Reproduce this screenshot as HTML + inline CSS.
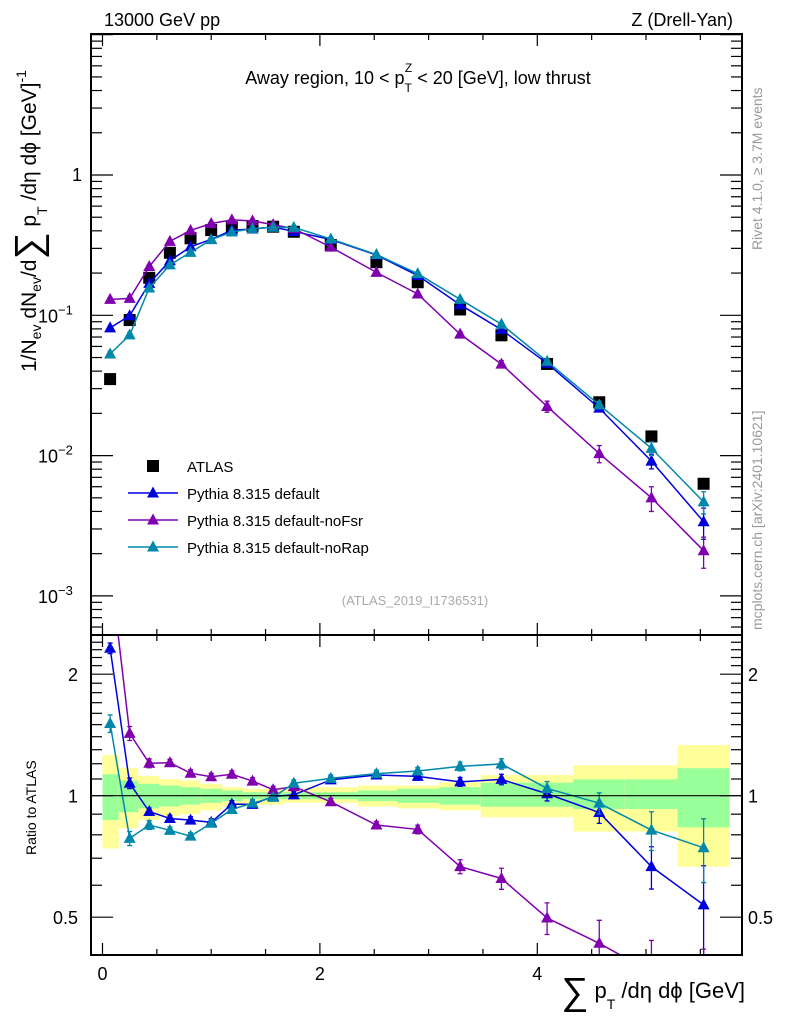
<!DOCTYPE html>
<html><head><meta charset="utf-8"><style>
html,body{margin:0;padding:0;background:#fff;}
svg{display:block;font-family:"Liberation Sans",sans-serif;}
</style></head><body>
<svg id="chart" width="786" height="1024" viewBox="0 0 786 1024" xmlns="http://www.w3.org/2000/svg">
<text x="104" y="26" font-size="18">13000 GeV pp</text>
<text x="733" y="26" font-size="18" text-anchor="end">Z (Drell-Yan)</text>
<text x="418" y="84" font-size="18" text-anchor="middle">Away region, 10 &lt; p<tspan font-size="12" dy="8">T</tspan><tspan font-size="12" dx="-7" dy="-20">Z</tspan><tspan dy="12"> &lt; 20 [GeV], low thrust</tspan></text>
<text transform="translate(762,250) rotate(-90)" font-size="14" fill="#999">Rivet 4.1.0, ≥ 3.7M events</text>
<text transform="translate(762,630) rotate(-90)" font-size="14" fill="#999">mcplots.cern.ch [arXiv:2401.10621]</text>
<text x="415" y="605" font-size="13" fill="#aaa" text-anchor="middle">(ATLAS_2019_I1736531)</text>
<text transform="translate(36,372) rotate(-90)" font-size="21">1/N<tspan font-size="14" dy="5">ev</tspan><tspan dy="-5"> dN</tspan><tspan font-size="14" dy="5">ev</tspan><tspan dy="-5">/d</tspan><tspan font-size="38" dy="5">∑</tspan><tspan dy="-5"> p</tspan><tspan font-size="14" dy="11">T</tspan><tspan dy="-11"> /dη dϕ  [GeV]</tspan><tspan font-size="14" dy="-10">-1</tspan></text>
<text transform="translate(36,855) rotate(-90)" font-size="14">Ratio to ATLAS</text>
<text x="745" y="998" font-size="22" text-anchor="end"><tspan font-size="38" dy="6">∑</tspan><tspan dy="-6"> p</tspan><tspan font-size="14" dy="11">T</tspan><tspan dy="-11"> /dη dϕ [GeV]</tspan></text>
<g id="bands"></g>
<g id="marks"></g>
<g id="axes"></g>
<g id="legend"></g>
</svg>
<script>
const xs = [0.07,0.25,0.43,0.62,0.81,1.0,1.19,1.38,1.57,1.76,2.1,2.52,2.9,3.29,3.67,4.09,4.57,5.05,5.53];
const binEdges = [0,0.15,0.33,0.52,0.71,0.9,1.1,1.29,1.47,1.66,1.87,2.35,2.71,3.1,3.48,3.9,4.33,4.8,5.29,5.77];
const atlas = [0.0351,0.0925,0.185,0.279,0.354,0.405,0.424,0.433,0.428,0.394,0.317,0.239,0.172,0.11,0.072,0.045,0.024,0.0137,0.0063];
const pyDefault = [0.0814,0.0993,0.169,0.245,0.308,0.348,0.404,0.412,0.426,0.396,0.347,0.269,0.192,0.119,0.079,0.0455,0.0218,0.00914,0.00338];
const pyNoFsr = [0.13,0.132,0.2226,0.3367,0.4025,0.4512,0.4791,0.4707,0.4429,0.4149,0.3062,0.2022,0.1419,0.0734,0.0449,0.0224,0.01034,0.0050,0.0021];
const pyNoRap = [0.053,0.0725,0.1565,0.229,0.281,0.346,0.392,0.415,0.424,0.423,0.350,0.271,0.198,0.130,0.0863,0.0469,0.0230,0.01126,0.00468];
const errDefault = [0.03,0.03,0.02,0.02,0.02,0.02,0.02,0.02,0.02,0.02,0.02,0.02,0.02,0.025,0.03,0.04,0.06,0.12,0.25];
const errNoFsr = [0.03,0.04,0.025,0.02,0.02,0.02,0.02,0.02,0.02,0.02,0.02,0.02,0.025,0.04,0.06,0.09,0.14,0.2,0.25];
const errNoRap = [0.05,0.04,0.025,0.02,0.02,0.02,0.02,0.02,0.02,0.02,0.02,0.02,0.02,0.025,0.03,0.04,0.06,0.11,0.18];
const yellowUp = [1.26,1.17,1.12,1.10,1.09,1.07,1.05,1.04,1.04,1.04,1.05,1.06,1.06,1.08,1.125,1.125,1.19,1.19,1.335];
const yellowDn = [0.74,0.83,0.87,0.89,0.90,0.92,0.94,0.95,0.95,0.96,0.96,0.94,0.93,0.92,0.884,0.884,0.815,0.815,0.667];
const greenUp = [1.13,1.09,1.07,1.06,1.05,1.04,1.03,1.02,1.02,1.02,1.02,1.03,1.04,1.05,1.077,1.077,1.098,1.098,1.17];
const greenDn = [0.87,0.91,0.93,0.94,0.95,0.96,0.97,0.98,0.98,0.98,0.98,0.97,0.96,0.95,0.939,0.939,0.927,0.927,0.835];
const mainTickLabels = ["10","1","10","10","10"];
const xTickLabels = ["0","2","4"];
const ratioTickLabels = ["0.5","1","2"];
const legendLabels = ["ATLAS","Pythia 8.315 default","Pythia 8.315 default-noFsr","Pythia 8.315 default-noRap"];

const NS="http://www.w3.org/2000/svg";
const L=91,R=742,T=34,MID=635,B=955;
const X=v=>102.5+108.7*v;
const Ym=v=>175-140.3*Math.log10(v);
const Yr=v=>795.7-403.6*Math.log10(v);
function mk(tag,attrs,parent){const e=document.createElementNS(NS,tag);for(const k in attrs)e.setAttribute(k,attrs[k]);parent.appendChild(e);return e;}
const svg=document.getElementById('chart');
const defs=mk('defs',{},svg);
const c1=mk('clipPath',{id:'cm'},defs);mk('rect',{x:L,y:T,width:R-L,height:MID-T},c1);
const c2=mk('clipPath',{id:'cr'},defs);mk('rect',{x:L,y:MID,width:R-L,height:B-MID},c2);
const bands=document.getElementById('bands');
const marks=document.getElementById('marks');
const axes=document.getElementById('axes');
const legend=document.getElementById('legend');

for(let i=0;i<atlas.length;i++){
  const x0=X(binEdges[i]),x1=X(binEdges[i+1]);
  let r=mk('rect',{x:x0,y:Yr(yellowUp[i]),width:x1-x0,height:Yr(yellowDn[i])-Yr(yellowUp[i]),fill:'#ffff99'},bands);
  
  
  r=mk('rect',{x:x0,y:Yr(greenUp[i]),width:x1-x0,height:Yr(greenDn[i])-Yr(greenUp[i]),fill:'#99ff99'},bands);
  
  
}
const one=mk('line',{x1:L,x2:R,y1:Yr(1),y2:Yr(1),stroke:'#000','stroke-width':1.2},axes);



function tri(x,y,col,parent,name){
  const p=mk('polygon',{points:`${x},${y-6.5} ${x-6},${y+4.5} ${x+6},${y+4.5}`,fill:col},parent);
  
  
}
const series=[[pyDefault,errDefault,'#0000dd','default'],[pyNoFsr,errNoFsr,'#8000b0','nofsr'],[pyNoRap,errNoRap,'#0088aa','norap']];
atlas.forEach((v,i)=>{
  const s=mk('rect',{x:X(xs[i])-6,y:Ym(v)-6,width:12,height:12,fill:'#000','clip-path':'url(#cm)'},marks);
  
  
});
series.forEach(([vals,errs,col,nm])=>{
  const gm=mk('g',{'clip-path':'url(#cm)'},marks);
  const gr=mk('g',{'clip-path':'url(#cr)'},marks);
  const pm=vals.map((v,i)=>X(xs[i])+','+Ym(v)).join(' ');
  const pr=vals.map((v,i)=>X(xs[i])+','+Yr(v/atlas[i])).join(' ');
  let l=mk('polyline',{points:pm,fill:'none',stroke:col,'stroke-width':1.5},gm);
  
  
  l=mk('polyline',{points:pr,fill:'none',stroke:col,'stroke-width':1.5},gr);
  
  
  vals.forEach((v,i)=>{
    const x=X(xs[i]),r=v/atlas[i],e=errs[i];
    [[gm,Ym(v*(1+e)),Ym(v*(1-e)),Ym(v)],[gr,Yr(r*(1+e)),Yr(r*(1-e)),Yr(r)]].forEach(([g,ya,yb,yc])=>{
      const eb=mk('path',{d:`M${x},${ya}V${yb}M${x-2.5},${ya}H${x+2.5}M${x-2.5},${yb}H${x+2.5}`,stroke:col,'stroke-width':1.3,fill:'none'},g);
      
      
      tri(x,yc,col,g,nm+'-point');
    });
  });
});

[[T,MID],[MID,B]].forEach(([a,b],k)=>{
  const f=mk('rect',{x:L,y:a,width:R-L,height:b-a,fill:'none',stroke:'#000','stroke-width':2},axes);
  
  
});
function tick(x1,y1,x2,y2){const t=mk('line',{x1,y1,x2,y2,stroke:'#000','stroke-width':1.2},axes);}
for(let v=0;v<=5.75;v+=0.5){
  const x=X(v),maj=Math.abs(v%2)<1e-6,len=maj?12:6;
  tick(x,T,x,T+len);tick(x,MID,x,MID-len);tick(x,MID,x,MID+len);tick(x,B,x,B-len);
}
xTickLabels.forEach((s,i)=>{
  const t=mk('text',{x:X(i*2),y:980,'font-size':18,'text-anchor':'middle'},axes);t.textContent=s;
  
  
});
for(let d=-4;d<=1;d++){
  for(let m=1;m<10;m++){
    const v=m*Math.pow(10,d),y=Ym(v);
    if(y<T||y>MID)continue;
    const len=m===1?22:11;
    tick(L,y,L+len,y);tick(R,y,R-len,y);
  }
}
[1,0,-1,-2,-3].forEach((d,i)=>{
  const y=Ym(Math.pow(10,d));
  if(d===0){const t=mk('text',{x:82,y:y+6,'font-size':18,'text-anchor':'end'},axes);t.textContent=mainTickLabels[1];return;}
  if(d===1)return;
  const t=mk('text',{x:38,y:y+7,'font-size':18},axes);
  
  
  t.textContent=mainTickLabels[i];
  const s=mk('tspan',{'font-size':13,dy:-8},t);s.textContent='−'+(-d);
});
[0.5,0.6,0.7,0.8,0.9,1,1.1,1.2,1.3,1.4,1.5,1.6,1.7,1.8,1.9,2,2.1,2.2,2.3,2.4].forEach(v=>{
  const y=Yr(v);if(y<MID||y>B)return;
  const len=(v===0.5||v===1||v===2)?22:11;
  tick(L,y,L+len,y);tick(R,y,R-len,y);
});
[0.5,1,2].forEach((v,i)=>{
  const y=Yr(v)+7;
  let t=mk('text',{x:78,y,'font-size':18,'text-anchor':'end'},axes);t.textContent=ratioTickLabels[i];
  
  
  t=mk('text',{x:748,y,'font-size':18},axes);t.textContent=ratioTickLabels[i];
  
  
});
const ly=[466,493,520,547];
const lc=['#000','#0000dd','#8000b0','#0088aa'];
legendLabels.forEach((s,i)=>{
  const y=ly[i];
  if(i===0){const r=mk('rect',{x:147,y:y-6,width:12,height:12,fill:'#000'},legend);}
  else{const l=mk('line',{x1:128,x2:178,y1:y,y2:y,stroke:lc[i],'stroke-width':1.5},legend);tri(153,y,lc[i],legend,'legend-marker');}
  const t=mk('text',{x:187,y:y+6,'font-size':15},legend);t.textContent=s;
  
  
});
</script>
</body></html>
